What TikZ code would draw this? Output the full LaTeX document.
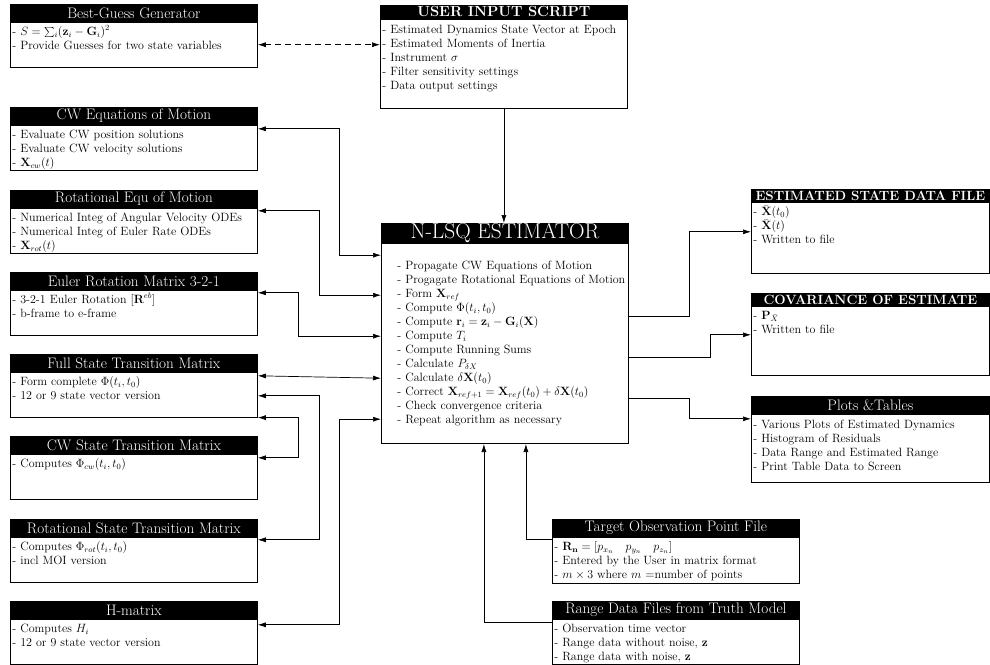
\documentclass[tikz,border=0pt]{standalone}
\usepackage{tikz}
\usetikzlibrary{arrows.meta,positioning,calc}
\usepackage{xcolor}

\tikzset{
  head/.style={fill=black, draw=black, line width=0.8pt, text=white, anchor=north west,
    minimum width=247pt, minimum height=17pt, inner sep=0pt, font=\fontsize{15.2}{18}\selectfont},
  body/.style={draw=black, line width=0.8pt, text width=243pt, inner xsep=2pt, inner ysep=3pt,
    text height=10pt, text depth=#1, align=left, font=\large},
  caphead/.style={head, minimum width=238pt, minimum height=12pt, font=\fontsize{13.4}{16}\selectfont\bfseries},
  link/.style={line width=0.7pt},
}

\begin{document}
\begin{tikzpicture}[x=1pt, y=-1pt, >={Latex[length=8pt,width=5pt]}]
                    \useasboundingbox (0,0) rectangle (990,664);

                    % Left column
                    \node[head] (bestguessh) at (10,4) {Best-Guess Generator};
                    \node[body=29pt, below=0pt of bestguessh] (bestguess) {- $S=\sum_i(\mathbf{z}_i-\mathbf{G}_i)^2$\\- Provide Guesses for two state variables};

                    \node[head] (cweomh) at (10,107) {CW Equations of Motion};
                    \node[body=29pt, below=0pt of cweomh] (cweom) {- Evaluate CW position solutions\\- Evaluate CW velocity solutions\\- $\mathbf{X}_{cw}(t)$};

                    \node[head] (roteomh) at (10,190) {Rotational Equ of Motion};
                    \node[body=29pt, below=0pt of roteomh] (roteom) {- Numerical Integ of Angular Velocity ODEs\\- Numerical Integ of Euler Rate ODEs\\- $\mathbf{X}_{rot}(t)$};

                    \node[head] (eulerh) at (10,272) {Euler Rotation Matrix 3-2-1};
                    \node[body=29pt, below=0pt of eulerh] (euler) {- 3-2-1 Euler Rotation $[\mathbf{R}^{eb}]$\\- b-frame to e-frame};

                    \node[head] (fullstmh) at (10,354) {Full State Transition Matrix};
                    \node[body=29pt, below=0pt of fullstmh] (fullstm) {- Form complete $\Phi(t_i,t_0)$\\- 12 or 9 state vector version};

                    \node[head] (cwstmh) at (10,436) {CW State Transition Matrix};
                    \node[body=29pt, below=0pt of cwstmh] (cwstm) {- Computes $\Phi_{cw}(t_i,t_0)$};

                    \node[head] (rotstmh) at (10,519) {Rotational State Transition Matrix};
                    \node[body=29pt, below=0pt of rotstmh] (rotstm) {- Computes $\Phi_{rot}(t_i,t_0)$\\- incl MOI version};

                    \node[head] (hmath) at (10,601) {H-matrix};
                    \node[body=29pt, below=0pt of hmath] (hmat) {- Computes $H_i$\\- 12 or 9 state vector version};

                    % User input and estimator
                    \node[head, minimum height=13pt, font=\fontsize{14.7}{17}\selectfont\bfseries] (userinh) at (380,5) {USER INPUT SCRIPT};
                    \node[body=72pt, text height=11pt, below=0pt of userinh] (userin) {- Estimated Dynamics State Vector at Epoch\\- Estimated Moments of Inertia\\- Instrument $\sigma$\\- Filter sensitivity settings\\- Data output settings};

                    \node[head, minimum height=17.5pt, font=\fontsize{21.5}{24}\selectfont] (esth) at (381,223) {N-LSQ ESTIMATOR};
                    \node[body=171pt, text height=23pt, execute at begin node={\leftskip=14pt}, below=0pt of esth] (est) {- Propagate CW Equations of Motion\\- Progagate Rotational Equations of Motion\\- Form $\mathbf{X}_{ref}$\\- Compute $\Phi(t_i,t_0)$\\- Compute $\mathbf{r}_i=\mathbf{z}_i-\mathbf{G}_i(\mathbf{X})$\\- Compute $T_i$\\- Compute Running Sums\\- Calculate $P_{\delta X}$\\- Calculate $\delta\mathbf{X}(t_0)$\\- Correct $\mathbf{X}_{ref+1}=\mathbf{X}_{ref}(t_0)+\delta\mathbf{X}(t_0)$\\- Check convergence criteria\\- Repeat algorithm as necessary};

                    % Right column
                    \node[caphead] (estfileh) at (751,189) {ESTIMATED STATE DATA FILE};
                    \node[body=55pt, text width=234pt, below=0pt of estfileh] (estfile) {- $\bar{\mathbf{X}}(t_0)$\\- $\bar{\mathbf{X}}(t)$\\- Written to file};

                    \node[caphead] (covh) at (751,293) {COVARIANCE OF ESTIMATE};
                    \node[body=53pt, text width=234pt, below=0pt of covh] (cov) {- $\mathbf{P}_{\bar{X}}$\\- Written to file};

                    \node[head, minimum width=238pt] (plotsh) at (751,396) {Plots \&Tables};
                    \node[body=51pt, text height=11pt, text width=234pt, below=0pt of plotsh] (plots) {- Various Plots of Estimated Dynamics\\- Histogram of Residuals\\- Data Range and Estimated Range\\- Print Table Data to Screen};

                    % Bottom inputs
                    \node[head] (targeth) at (552,519) {Target Observation Point File};
                    \node[body=30pt, below=0pt of targeth] (target) {- $\mathbf{R_n}=[p_{x_n}\quad p_{y_n}\quad p_{z_n}]$\\- Entered by the User in matrix format\\- $m\times3$ where $m$ =number of points};

                    \node[head] (rangeh) at (552,601) {Range Data Files from Truth Model};
                    \node[body=29pt, below=0pt of rangeh] (range) {- Observation time vector\\- Range data without noise, $\mathbf{z}$\\- Range data with noise, $\mathbf{z}$};

                    % Connectors
                    \draw[link, <->, dash pattern=on 6pt off 4pt] (bestguess.east) -- (bestguess.east -| userin.west);
                    \draw[link, ->] (userin.south) -- (userin.south |- esth.north);

                    \draw[link, <->] ([yshift=-4pt]cweom.north east) -- ++(82,0) |- ([yshift=-12pt]est.north west);
                    \draw[link, <->] ([yshift=-3pt]roteom.north east) -- ++(62,0) |- ([yshift=-52pt]est.north west);
                    \draw[link, <->] ([yshift=-3pt]euler.north east) -- ++(41,0) |- ([yshift=-93pt]est.north west);
                    \draw[link, <->] ([yshift=-4pt]fullstm.north east) -- ([yshift=-135pt]est.north west);
                    \draw[link, <->] ([yshift=-24pt]fullstm.north east) -- ++(62,0) |- ([yshift=-3pt]rotstm.north east);
                    \draw[link, <->] (fullstm.south east) -- ++(41,0) |- ([yshift=-4pt]cwstm.north east);
                    \draw[link, <->] ([yshift=-6pt]hmat.north east) -- ++(82,0) |- ([yshift=-176pt]est.north west);

                    \draw[link, ->] ([yshift=-3pt]target.north west) -| ([xshift=21pt]est.south);
                    \draw[link, ->] ([yshift=-4pt]range.north west) -| ([xshift=-21pt]est.south);

                    \draw[link, ->] ([yshift=-73pt]est.north east) -- ++(61,0) |- ([yshift=-30pt]estfile.north west);
                    \draw[link, ->] ([yshift=-114pt]est.north east) -- ++(82,0) |- ([yshift=-29pt]cov.north west);
                    \draw[link, ->] ([yshift=-155pt]est.north east) -- ++(61,0) |- ([yshift=-5pt]plots.north west);
                \end{tikzpicture}
\end{document}
